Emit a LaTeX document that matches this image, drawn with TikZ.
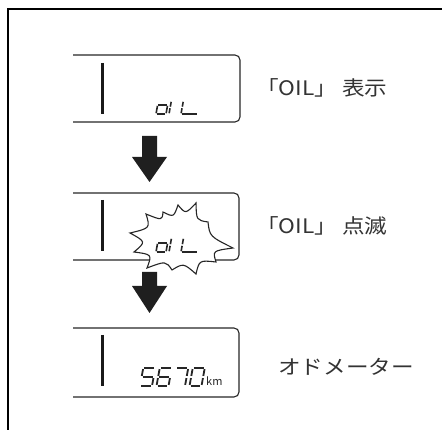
\documentclass[tikz,border=0pt]{standalone}
\usepackage{fontspec}
\newfontfamily\jp{Noto Sans CJK JP}
\usetikzlibrary{calc}
\tikzset{
  disp/.style={line width=1.1pt, draw=black!85, rounded corners=5pt},
  lcdbar/.style={line width=3pt, draw=black!90},
  seg/.style={line width=1.6pt, line cap=butt, draw=black!85},
  bigseg/.style={line width=1.8pt, line cap=butt, draw=black!85},
  blockarrow/.style={fill=black!88, draw=none},
  lbl/.style={font=\jp\fontsize{20}{24}\selectfont, text=black!80, inner sep=0pt, anchor=base west, xscale=1.13},
  frameline/.style={line width=2.6pt, draw=black},
  burst/.style={line width=1.1pt, draw=black!85, fill=white, line join=miter},
}
\def\lcdG{0.8}
\def\segstyle{seg}
\pgfkeys{/lcd/.cd,
  a/.code={\draw[\segstyle] (\lcdG,-\lcdH) -- (\lcdW-\lcdG,-\lcdH);},
  b/.code={\draw[\segstyle] (\lcdW,-\lcdH+\lcdG) -- (\lcdW,-\lcdH/2-\lcdG);},
  c/.code={\draw[\segstyle] (\lcdW,-\lcdH/2+\lcdG) -- (\lcdW,-\lcdG);},
  d/.code={\draw[\segstyle] (\lcdG,0) -- (\lcdW-\lcdG,0);},
  e/.code={\draw[\segstyle] (0,-\lcdH/2+\lcdG) -- (0,-\lcdG);},
  f/.code={\draw[\segstyle] (0,-\lcdH+\lcdG) -- (0,-\lcdH/2-\lcdG);},
  g/.code={\draw[\segstyle] (\lcdG,-\lcdH/2) -- (\lcdW-\lcdG,-\lcdH/2);},
}
\newcommand\lcdchar[5]{%
  \begin{scope}[shift={(#1,#2)}, xslant=0.18]
    \def\lcdW{#3}\def\lcdH{#4}%
    \foreach \s in {#5} {\pgfkeys{/lcd/\s}}
  \end{scope}}
\begin{document}
\begin{tikzpicture}[x=1pt,y=-1pt]
\useasboundingbox (0,0) rectangle (442,430);
% outer frame (cut at right and bottom)
\draw[frameline] (8,432) -- (8,9) -- (444,9);

% display 1
\draw[disp] (73,55) -- (240,55) -- (240,122) -- (73,122);
\draw[lcdbar] (102,63) -- (102,114);
\lcdchar{156}{114}{10}{18}{c,d,e,g}
\lcdchar{169}{114}{0}{13}{e,f}
\lcdchar{181}{114}{17}{13}{d,e,f}
\node[lbl] (l1) at (256,96) {「OIL」 表示};

% arrow 1
\fill[blockarrow] (142,136) -- (157,136) -- (157,157) -- (167,157) -- (149.5,182) -- (132,157) -- (142,157) -- cycle;

% display 2
\draw[disp] (73,193) -- (239,193) -- (239,260) -- (73,260);
\draw[lcdbar] (102,200) -- (102,251);
% arrow 2
\fill[blockarrow] (142,272) -- (157,272) -- (157,286) -- (167,286) -- (149.5,313) -- (132,286) -- (142,286) -- cycle;
% starburst
\coordinate (c) at (182,240);
\coordinate (t1) at (130,233);
\coordinate (t2) at (146,214);
\coordinate (t3) at (163,212);
\coordinate (t4) at (178,205);
\coordinate (t5) at (196,203);
\coordinate (t6) at (208,222);
\coordinate (t7) at (233,248);
\coordinate (t8) at (216,262);
\coordinate (t9) at (196,274);
\coordinate (t10) at (172,270);
\coordinate (t11) at (147,268);
\coordinate (t12) at (134,252);
\draw[burst] (t1)
  \foreach \i/\j in {1/2,2/3,3/4,4/5,5/6,6/7,7/8,8/9,9/10,10/11,11/12,12/1} {
    .. controls ($(c)!0.72!($(t\i)!0.5!(t\j)$)$) .. (t\j)
  } -- cycle;
\lcdchar{156}{252}{10}{18}{c,d,e,g}
\lcdchar{169}{252}{0}{14}{e,f}
\lcdchar{181}{252}{17}{14}{d,e,f}
\node[lbl] (l2) at (256,234) {「OIL」 点滅};

% display 3
\draw[disp] (73,328) -- (239,328) -- (239,397) -- (73,397);
\draw[lcdbar] (102,335) -- (102,386);
\def\segstyle{bigseg}
\def\lcdG{1.1}
\lcdchar{140}{386}{12}{18}{a,f,g,c,d}
\lcdchar{156.5}{386}{12}{18}{a,f,g,e,d,c}
\lcdchar{173}{386}{12}{18}{a,b,c}
\lcdchar{189.5}{386}{12}{18}{a,b,c,d,e,f}
\node[font=\jp\fontsize{11}{13}\selectfont, inner sep=0pt, anchor=base west, text=black!85] (km) at (206,386) {km};
\node[lbl] (l3) at (278,375) {オドメーター};
\end{tikzpicture}
\end{document}
